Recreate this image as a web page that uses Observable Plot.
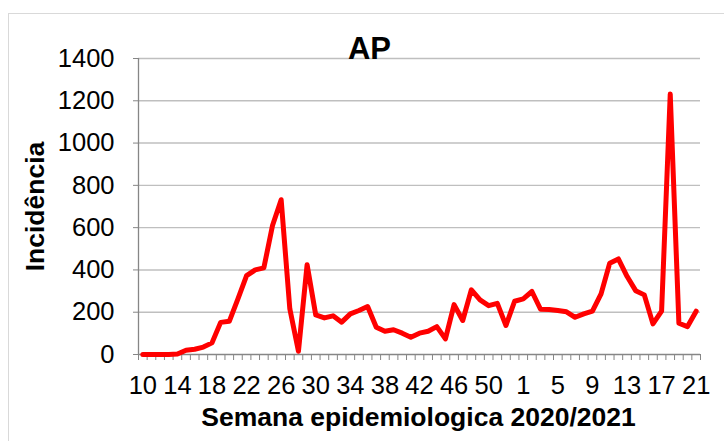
<!DOCTYPE html>
<html><head><meta charset="utf-8">
<script src="https://cdn.jsdelivr.net/npm/d3@7"></script>
<script src="https://cdn.jsdelivr.net/npm/@observablehq/plot@0.6"></script>
<style>
body{margin:0;background:#fff;}
#wrap{position:relative;width:724px;height:441px;overflow:hidden;}
#border{position:absolute;left:8px;top:13px;width:730px;height:440px;border:1px solid #d9d9d9;pointer-events:none;}
</style></head><body>
<div id="wrap"><div id="chart"></div><div id="border"></div></div>
<script>
const weeks = [10,11,12,13,14,15,16,17,18,19,20,21,22,23,24,25,26,27,28,29,30,31,32,33,34,35,36,37,38,39,40,41,42,43,44,45,46,47,48,49,50,51,52,53,
  1,2,3,4,5,6,7,8,9,10,11,12,13,14,15,16,17,18,19,20,21];
const incidence = [0,0,0,0,2,20,25,35,55,152,157,263,373,400,410,610,732,216,15,425,187,173,183,153,192,208,227,129,110,117,101,82,101,110,132,74,236,161,306,258,231,242,137,252,
  263,298,214,213,208,202,176,192,205,287,432,452,370,302,282,145,205,1232,148,132,205];
const yTicks = [0,200,400,600,800,1000,1200,1400];
const title = "AP";
const yTitle = "Incidência";
const xTitle = "Semana epidemiologica 2020/2021";

const n = weeks.length;
const boundaries = d3.range(n + 1).map(i => i - 0.5);
const labelIdx = d3.range(0, n, 4);
const font = "Liberation Sans, Arial, sans-serif";

const chart = Plot.plot({
  width: 724, height: 441,
  marginLeft: 138, marginRight: 24, marginTop: 58, marginBottom: 87,
  style: {fontFamily: font, color: "#000", background: "transparent"},
  x: {type: "linear", domain: [-0.5, n - 0.5]},
  y: {domain: [0, 1400]},
  marks: [
    Plot.ruleY(yTicks.filter(d => d > 0), {stroke: "#bfbfbf", strokeWidth: 1.4}),
    Plot.axisY({ticks: yTicks, tickSize: 5, tickPadding: 19, fontSize: 25.5, tickFormat: d => String(d), stroke: "#868686", label: null}),
    Plot.axisX({ticks: boundaries, tickSize: 6, tickFormat: () => "", stroke: "#868686", label: null}),
    Plot.axisX({ticks: labelIdx, tickSize: 0, tickPadding: 21, fontSize: 25.5, tickFormat: i => String(weeks[i]), label: null}),
    Plot.ruleX([-0.5], {stroke: "#868686", strokeWidth: 1.3}),
    Plot.ruleY([0], {stroke: "#868686", strokeWidth: 1.3}),
    Plot.line(incidence, {x: (d, i) => i, y: d => d, stroke: "#ff0000", strokeWidth: 5, strokeLinejoin: "round", strokeLinecap: "round"}),
    Plot.text([title], {frameAnchor: "top", dx: -50, dy: 0, lineAnchor: "bottom", textAnchor: "middle", fontSize: 31, fontWeight: "bold", fill: "#000"}),
    Plot.text([yTitle], {frameAnchor: "left", dx: -103, dy: 0, rotate: -90, lineAnchor: "middle", textAnchor: "middle", fontSize: 26.5, fontWeight: "bold", fill: "#000"}),
    Plot.text([xTitle], {frameAnchor: "bottom", dx: -1, dy: 71, lineAnchor: "bottom", textAnchor: "middle", fontSize: 26.5, fontWeight: "bold", fill: "#000"})
  ]
});
document.getElementById("chart").appendChild(chart);
</script>
</body></html>
